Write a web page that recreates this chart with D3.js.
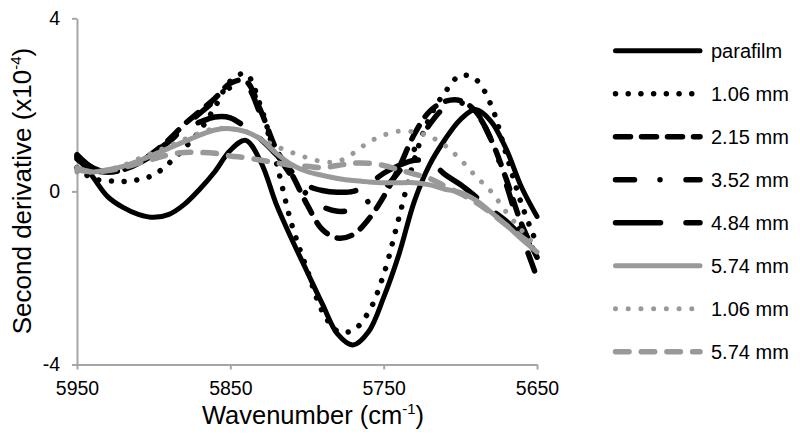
<!DOCTYPE html>
<html><head><meta charset="utf-8">
<script src="https://cdn.jsdelivr.net/npm/d3@7"></script>
<style>
body{margin:0;background:#fff;}
svg{display:block;font-family:"Liberation Sans",Arial,sans-serif;}
</style>
</head><body>
<svg id="chart" width="800" height="438"></svg>
<script>
// ---- data (second derivative, x10^-4) ----
const wavenumbers = [5950,5940,5930,5920,5910,5900,5890,5880,5870,5860,5850,5840,5830,5820,5810,5800,5790,5780,5770,5760,5750,5740,5730,5720,5710,5700,5690,5680,5670,5660,5650];
const parafilm   = [0.8,0.35,-0.12,-0.37,-0.53,-0.6,-0.53,-0.3,0.05,0.46,0.95,1.18,0.67,-0.3,-1.1,-1.85,-2.6,-3.3,-3.55,-3.25,-2.45,-1.45,-0.23,0.62,1.2,1.66,1.89,1.62,0.97,0.09,-0.58];
const dotted106  = [0.55,0.3,0.25,0.23,0.27,0.38,0.65,1.0,1.4,1.95,2.55,2.72,1.94,0.67,-0.76,-1.8,-2.77,-3.23,-3.21,-2.8,-1.92,-0.6,0.74,1.71,2.29,2.68,2.59,2.0,0.85,-0.3,-1.22];
const dashed215  = [0.75,0.5,0.45,0.5,0.65,0.9,1.2,1.55,1.85,2.15,2.5,2.55,1.85,0.97,0.4,-0.3,-0.88,-1.08,-1.0,-0.65,-0.12,0.55,1.32,1.85,2.08,2.1,1.85,1.2,0.28,-0.76,-1.52];
const dashdot352 = [0.8,0.55,0.45,0.5,0.65,0.85,1.15,1.5,1.8,2.1,2.4,2.45,1.75,0.9,0.35,-0.07,-0.35,-0.46,-0.42,-0.23,0.05,0.46,0.97,1.55,1.94,2.05,1.82,1.2,0.16,-1.0,-1.99];
const longdash484= [0.85,0.55,0.45,0.5,0.65,0.9,1.15,1.45,1.6,1.72,1.7,1.48,1.2,0.85,0.46,0.14,0.02,-0.02,0,0.16,0.42,0.6,0.72,0.69,0.39,0.16,-0.12,-0.42,-0.69,-1.04,-1.39];
const solid574   = [0.55,0.45,0.5,0.58,0.7,0.85,1.0,1.15,1.3,1.42,1.45,1.38,1.2,0.88,0.62,0.46,0.37,0.3,0.25,0.22,0.2,0.2,0.2,0.15,0.05,-0.02,-0.2,-0.48,-0.78,-1.1,-1.4];
const grayDot106 = [0.45,0.45,0.5,0.6,0.75,0.9,1.05,1.2,1.35,1.45,1.45,1.38,1.22,1.04,0.9,0.78,0.69,0.69,0.88,1.13,1.3,1.39,1.37,1.27,1.06,0.74,0.35,0.0,-0.48,-0.9,-1.3];
const grayDash574= [0.5,0.45,0.48,0.55,0.65,0.75,0.85,0.9,0.9,0.88,0.82,0.78,0.72,0.66,0.6,0.58,0.55,0.6,0.65,0.65,0.6,0.5,0.4,0.3,0.12,-0.05,-0.25,-0.5,-0.78,-1.05,-1.3];
const seriesLabels = ["parafilm","1.06 mm","2.15 mm","3.52 mm","4.84 mm","5.74 mm","1.06 mm","5.74 mm"];
const xTicks = [5950,5850,5750,5650];
const yTicks = [4,0,-4];

// ---- styles ----
const BLACK = "#000000", GRAY = "#999999", AXIS = "#a6a6a6";
const styles = [
  {color:BLACK, width:5,   dash:null},
  {color:BLACK, width:5.5, dash:"0.01 12.7"},
  {color:BLACK, width:5.5, dash:"15 11"},
  {color:BLACK, width:5.5, dash:"19 25.5 0.01 26"},
  {color:BLACK, width:5.5, dash:"45 25.5"},
  {color:GRAY,  width:5,   dash:null},
  {color:GRAY,  width:5,   dash:"0.01 12.7"},
  {color:GRAY,  width:5.5, dash:"13.5 12.2"}
];
const seriesValues = [parafilm,dotted106,dashed215,dashdot352,longdash484,solid574,grayDot106,grayDash574];
const series = seriesValues.map((vals,i)=>({label:seriesLabels[i], style:styles[i],
  points: wavenumbers.map((w,j)=>({w, v:vals[j]}))}));

const svg = d3.select("#chart");
svg.append("rect").attr("width",800).attr("height",438).attr("fill","#fff");

const x = d3.scaleLinear().domain([5950,5650]).range([77,537]);
const y = d3.scaleLinear().domain([-4,4]).range([364.5,18.3]);

// axes
const yAxis = svg.append("g").attr("transform","translate(77,0)")
  .call(d3.axisLeft(y).tickValues(yTicks).tickSize(5).tickSizeOuter(0).tickPadding(12).tickFormat(d=>String(d)));
const xAxis = svg.append("g").attr("transform","translate(0,364.5)")
  .call(d3.axisBottom(x).tickValues(xTicks).tickSize(5).tickSizeOuter(0).tickPadding(12).tickFormat(d=>String(d)));
[yAxis,xAxis].forEach(g=>{
  g.select(".domain").attr("stroke",AXIS).attr("stroke-width",2);
  g.selectAll(".tick line").attr("stroke",AXIS).attr("stroke-width",2);
  g.selectAll(".tick text").attr("fill","#000").style("font-size","19.5px").style("font-family","'Liberation Sans',Arial,sans-serif");
});

// lines
const line = d3.line().x(d=>x(d.w)).y(d=>y(d.v)).curve(d3.curveCatmullRom.alpha(0.5));
svg.append("g").selectAll("path").data(series).join("path")
  .attr("d",d=>line(d.points))
  .attr("fill","none")
  .attr("stroke",d=>d.style.color)
  .attr("stroke-width",d=>d.style.width)
  .attr("stroke-linecap","round")
  .attr("stroke-linejoin","round")
  .attr("stroke-dasharray",d=>d.style.dash);

// legend
const lg = svg.append("g");
series.forEach((s,i)=>{
  const yy = 50.7 + i*43;
  lg.append("line").attr("x1",615.5).attr("x2",700).attr("y1",yy).attr("y2",yy)
    .attr("stroke",s.style.color).attr("stroke-width",s.style.width)
    .attr("stroke-linecap","round")
    .attr("stroke-dasharray",s.style.dash);
  lg.append("text").attr("x",711).attr("y",yy).attr("dy","0.36em")
    .style("font-size","20px").attr("fill","#000").text(s.label);
});

// axis titles
const xt = svg.append("text").attr("x",313).attr("y",424).attr("text-anchor","middle")
  .style("font-size","25.5px").attr("fill","#000");
xt.append("tspan").text("Wavenumber (cm");
xt.append("tspan").style("font-size","15px").attr("dy",-10).text("-1");
xt.append("tspan").attr("dy",10).text(")");

const yt = svg.append("text").attr("transform","translate(31,191) rotate(-90)").attr("text-anchor","middle")
  .style("font-size","26px").attr("fill","#000");
yt.append("tspan").text("Second derivative (x10");
yt.append("tspan").style("font-size","15px").attr("dy",-10).text("-4");
yt.append("tspan").attr("dy",10).text(")");
</script>
</body></html>
